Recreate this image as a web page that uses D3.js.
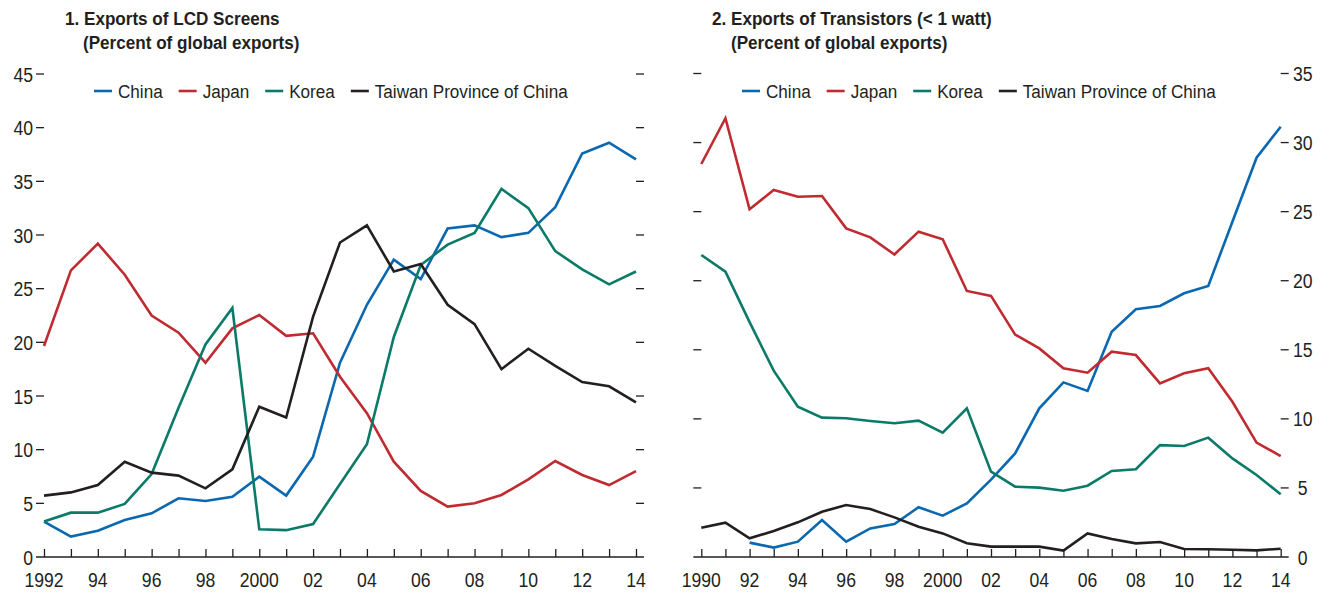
<!DOCTYPE html>
<html>
<head>
<meta charset="utf-8">
<script src="https://cdn.jsdelivr.net/npm/d3@7/dist/d3.min.js"></script>
<style>
  html, body { margin: 0; padding: 0; background: #fff; }
  svg { display: block; }
  text { font-family: "Liberation Sans", Arial, sans-serif; fill: #231f20; }
</style>
</head>
<body>
<svg id="chart" width="1332" height="592"></svg>
<script>
// Country series names and colours
const countries = ["China", "Japan", "Korea", "Taiwan Province of China"];
const colors = ["#0a68b0", "#bf2b30", "#0b7a68", "#231f20"];

// Panel 1: LCD screens, percent of global exports, 1992–2014
const lcdYears = d3.range(1992, 2015);
const lcdChina  = [3.3, 1.9, 2.45, 3.45, 4.07, 5.47, 5.22, 5.62, 7.48, 5.72, 9.35, 18.1, 23.5, 27.7, 25.9, 30.6, 30.9, 29.8, 30.2, 32.6, 37.6, 38.6, 37.05];
const lcdJapan  = [19.66, 26.7, 29.2, 26.3, 22.5, 20.9, 18.1, 21.3, 22.55, 20.6, 20.84, 16.8, 13.4, 8.88, 6.15, 4.69, 5.0, 5.78, 7.24, 8.94, 7.64, 6.7, 8.0];
const lcdKorea  = [3.3, 4.13, 4.13, 4.94, 7.73, 13.9, 19.8, 23.2, 2.58, 2.5, 3.07, 6.8, 10.5, 20.5, 27.2, 29.1, 30.2, 34.3, 32.5, 28.5, 26.8, 25.4, 26.6];
const lcdTaiwan = [5.72, 6.02, 6.7, 8.88, 7.86, 7.58, 6.4, 8.17, 14.0, 13.0, 22.4, 29.3, 30.9, 26.6, 27.3, 23.5, 21.7, 17.5, 19.4, 17.8, 16.3, 15.9, 14.4];
const lcdYTicks = [0, 5, 10, 15, 20, 25, 30, 35, 40, 45];
const lcdXTickLabels = ["1992", "94", "96", "98", "2000", "02", "04", "06", "08", "10", "12", "14"];

// Panel 2: transistors (< 1 watt), percent of global exports, 1990–2014 (China from 1992)
const trYears = d3.range(1990, 2015);
const trChina  = [null, null, 1.04, 0.68, 1.11, 2.68, 1.11, 2.07, 2.39, 3.6, 2.99, 3.88, 5.6, 7.5, 10.76, 12.64, 12.02, 16.31, 17.93, 18.17, 19.09, 19.62, 24.27, 28.9, 31.15];
const trJapan  = [28.45, 31.76, 25.17, 26.57, 26.08, 26.13, 23.79, 23.14, 21.9, 23.55, 23.0, 19.26, 18.9, 16.1, 15.1, 13.66, 13.34, 14.86, 14.62, 12.57, 13.3, 13.66, 11.24, 8.28, 7.31];
const trKorea  = [21.86, 20.65, 17.0, 13.49, 10.88, 10.09, 10.04, 9.85, 9.68, 9.87, 9.0, 10.76, 6.18, 5.09, 5.02, 4.8, 5.16, 6.23, 6.35, 8.1, 8.04, 8.64, 7.14, 5.94, 4.54];
const trTaiwan = [2.12, 2.48, 1.35, 1.88, 2.51, 3.28, 3.76, 3.47, 2.87, 2.19, 1.71, 0.99, 0.75, 0.75, 0.75, 0.46, 1.71, 1.3, 0.99, 1.09, 0.58, 0.56, 0.53, 0.48, 0.6];
const trYTicks = [0, 5, 10, 15, 20, 25, 30, 35];
const trXTickLabels = ["1990", "92", "94", "96", "98", "2000", "02", "04", "06", "08", "10", "12", "14"];

const svg = d3.select("#chart");

// Horizontally condensed text, anchored at (x, y)
function condensed(sel, x, y, size, sx) {
  return sel.append("text")
    .attr("transform", `translate(${x},${y}) scale(${sx},1)`)
    .attr("font-size", size);
}

function drawPanel(cfg) {
  const g = svg.append("g");
  const x = d3.scaleLinear().domain(d3.extent(cfg.years)).range([cfg.left, cfg.right]);
  const y = d3.scaleLinear().domain([0, d3.max(cfg.yTicks)]).range([cfg.bottom, cfg.top]);
  const tickLen = 8;
  const ink = "#231f20";

  // Title
  condensed(g, cfg.titleX, 25, 19, 0.9).attr("font-weight", "bold").text(cfg.title);
  condensed(g, cfg.titleX + cfg.subIndent, 49, 19, 0.9).attr("font-weight", "bold")
    .text("(Percent of global exports)");

  // Baseline axis with yearly ticks pointing up
  const xAxis = d3.axisBottom(x).tickValues(cfg.years).tickSize(-tickLen).tickFormat("");
  const xa = g.append("g").attr("transform", `translate(0,${cfg.bottom})`).call(xAxis);
  xa.select(".domain").remove();
  xa.selectAll(".tick line").attr("stroke", ink).attr("stroke-width", 1.3);
  g.append("line")
    .attr("x1", cfg.left - tickLen).attr("x2", cfg.right + tickLen)
    .attr("y1", cfg.bottom).attr("y2", cfg.bottom)
    .attr("stroke", ink).attr("stroke-width", 1.3);

  // Year labels every two years
  const labelYears = cfg.years.filter((d, i) => i % 2 === 0);
  labelYears.forEach((yr, i) => {
    condensed(g, x(yr), 587, 21, 0.84).attr("text-anchor", "middle").text(cfg.xTickLabels[i]);
  });

  // Value ticks on both sides (short outward dashes)
  const yt = cfg.yTicks.filter(v => v > 0);
  g.selectAll("line.yl").data(yt).join("line").attr("class", "yl")
    .attr("x1", cfg.left - tickLen).attr("x2", cfg.left)
    .attr("y1", d => y(d)).attr("y2", d => y(d))
    .attr("stroke", ink).attr("stroke-width", 1.3);
  g.selectAll("line.yr").data(yt).join("line").attr("class", "yr")
    .attr("x1", cfg.right).attr("x2", cfg.right + tickLen)
    .attr("y1", d => y(d)).attr("y2", d => y(d))
    .attr("stroke", ink).attr("stroke-width", 1.3);

  // Value labels
  cfg.yTicks.forEach(v => {
    const lx = cfg.labelSide === "left" ? cfg.left - 11 : cfg.right + 22;
    condensed(g, lx, y(v) + 7.5, 21, 0.84)
      .attr("text-anchor", cfg.labelSide === "left" ? "end" : "middle")
      .text(v);
  });

  // Series lines
  const line = d3.line()
    .defined(d => d[1] !== null)
    .x(d => x(d[0])).y(d => y(d[1]));
  cfg.series.forEach((vals, i) => {
    g.append("path")
      .datum(cfg.years.map((yr, j) => [yr, vals[j]]))
      .attr("fill", "none")
      .attr("stroke", colors[i])
      .attr("stroke-width", 2.6)
      .attr("stroke-linejoin", "miter")
      .attr("d", line);
  });

  // Legend
  let lx = cfg.legendX;
  const ly = 91;
  const sx = 0.9;
  countries.forEach((name, i) => {
    g.append("line")
      .attr("x1", lx).attr("x2", lx + 18)
      .attr("y1", ly).attr("y2", ly)
      .attr("stroke", colors[i]).attr("stroke-width", 2.6);
    const t = condensed(g, lx + 24, ly + 6.8, 19, sx).text(name);
    lx += 24 + t.node().getComputedTextLength() * sx + 16;
  });
}

drawPanel({
  title: "1. Exports of LCD Screens",
  titleX: 65, subIndent: 18,
  years: lcdYears, yTicks: lcdYTicks, xTickLabels: lcdXTickLabels,
  series: [lcdChina, lcdJapan, lcdKorea, lcdTaiwan],
  left: 44, right: 636, top: 74, bottom: 557,
  labelSide: "left", legendX: 94
});

drawPanel({
  title: "2. Exports of Transistors (< 1 watt)",
  titleX: 712, subIndent: 19,
  years: trYears, yTicks: trYTicks, xTickLabels: trXTickLabels,
  series: [trChina, trJapan, trKorea, trTaiwan],
  left: 701.3, right: 1280.7, top: 73.5, bottom: 557,
  labelSide: "right", legendX: 742
});
</script>
</body>
</html>
